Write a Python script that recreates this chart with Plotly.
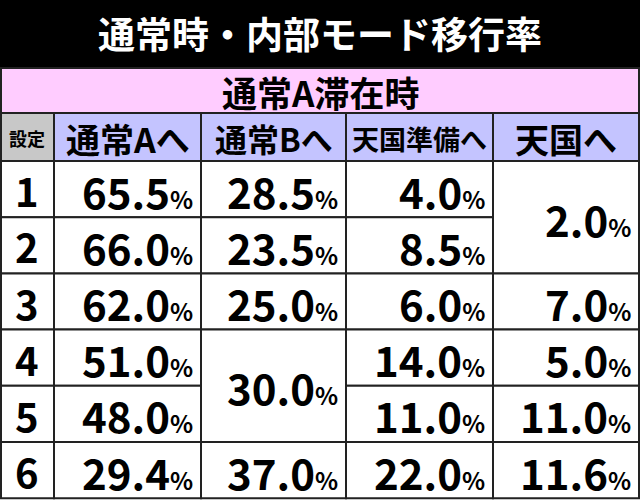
import plotly.graph_objects as go

title = "通常時・内部モード移行率"
subtitle = "通常A滞在時"
headers = ["設定", "通常Aへ", "通常Bへ", "天国準備へ", "天国へ"]
header_sizes = [18, 34, 32, 27, 34]
settings = ["1", "2", "3", "4", "5", "6"]
to_a = [65.5, 66.0, 62.0, 51.0, 48.0, 29.4]
to_b = [28.5, 23.5, 25.0, 30.0, None, 37.0]
to_prep = [4.0, 8.5, 6.0, 14.0, 11.0, 22.0]
to_heaven = [2.0, None, 7.0, 5.0, 11.0, 11.6]
# row spans: value index -> span count
spans_b = {3: 2}
spans_heaven = {0: 2}

col_x = [0, 54, 201, 346, 493, 639]
row_top = 161
row_h = 56.2
FONT = "Noto Sans CJK JP"

fig = go.Figure()
shapes = []
ann = []

def rect(x0, y0, x1, y1, fill, lw=2, lc="#222"):
    shapes.append(dict(type="rect", xref="x", yref="y", x0=x0, y0=y0, x1=x1, y1=y1,
                       fillcolor=fill, line=dict(color=lc, width=lw), layer="below"))

def text(x, y, s, size, anchor="center", color="black"):
    ann.append(dict(x=x, y=y, xref="x", yref="y", text=s, showarrow=False, xanchor=anchor,
                    yanchor="middle", font=dict(family=FONT, size=size, color=color, weight=700)))

# title band
rect(0, 0, 640, 67, "black", lw=0)
text(320, 33, title, 37, color="white")
# subtitle band
rect(1, 68, 639, 113, "#ffccff")
text(320, 91, subtitle, 35)
# header row
for i, h in enumerate(headers):
    fill = "#c8c8c8" if i == 0 else "#c4c4ff"
    rect(col_x[i] + (1 if i == 0 else 0), 113, col_x[i + 1], 161, fill)
    text((col_x[i] + col_x[i + 1]) / 2, 138, h, header_sizes[i])

def pct(v):
    return f"{v:.1f}<span style='font-size:24px'>%</span>"

cols = [to_a, to_b, to_prep, to_heaven]
spans = [{}, spans_b, {}, spans_heaven]
for r, s in enumerate(settings):
    y0 = row_top + r * row_h
    rect(1, y0, col_x[1], y0 + row_h, "white")
    text((col_x[0] + col_x[1]) / 2, y0 + row_h / 2 + 1, s, 40)
    for c, vals in enumerate(cols):
        v = vals[r]
        if v is None:
            continue
        n = spans[c].get(r, 1)
        y1 = y0 + n * row_h
        rect(col_x[c + 1], y0, col_x[c + 2], min(y1, 501), "white")
        text(col_x[c + 2] - 6, (y0 + y1) / 2 + 1, pct(v), 42, anchor="right")

fig.update_layout(width=640, height=501, margin=dict(l=0, r=0, t=0, b=0),
                  paper_bgcolor="white", plot_bgcolor="white", shapes=shapes, annotations=ann,
                  xaxis=dict(range=[0, 640], visible=False, fixedrange=True),
                  yaxis=dict(range=[501, 0], visible=False, fixedrange=True),
                  showlegend=False)
fig.write_html("out.html", config={"displayModeBar": False},
               post_script="document.body.style.margin='0';document.body.style.overflow='hidden';")
